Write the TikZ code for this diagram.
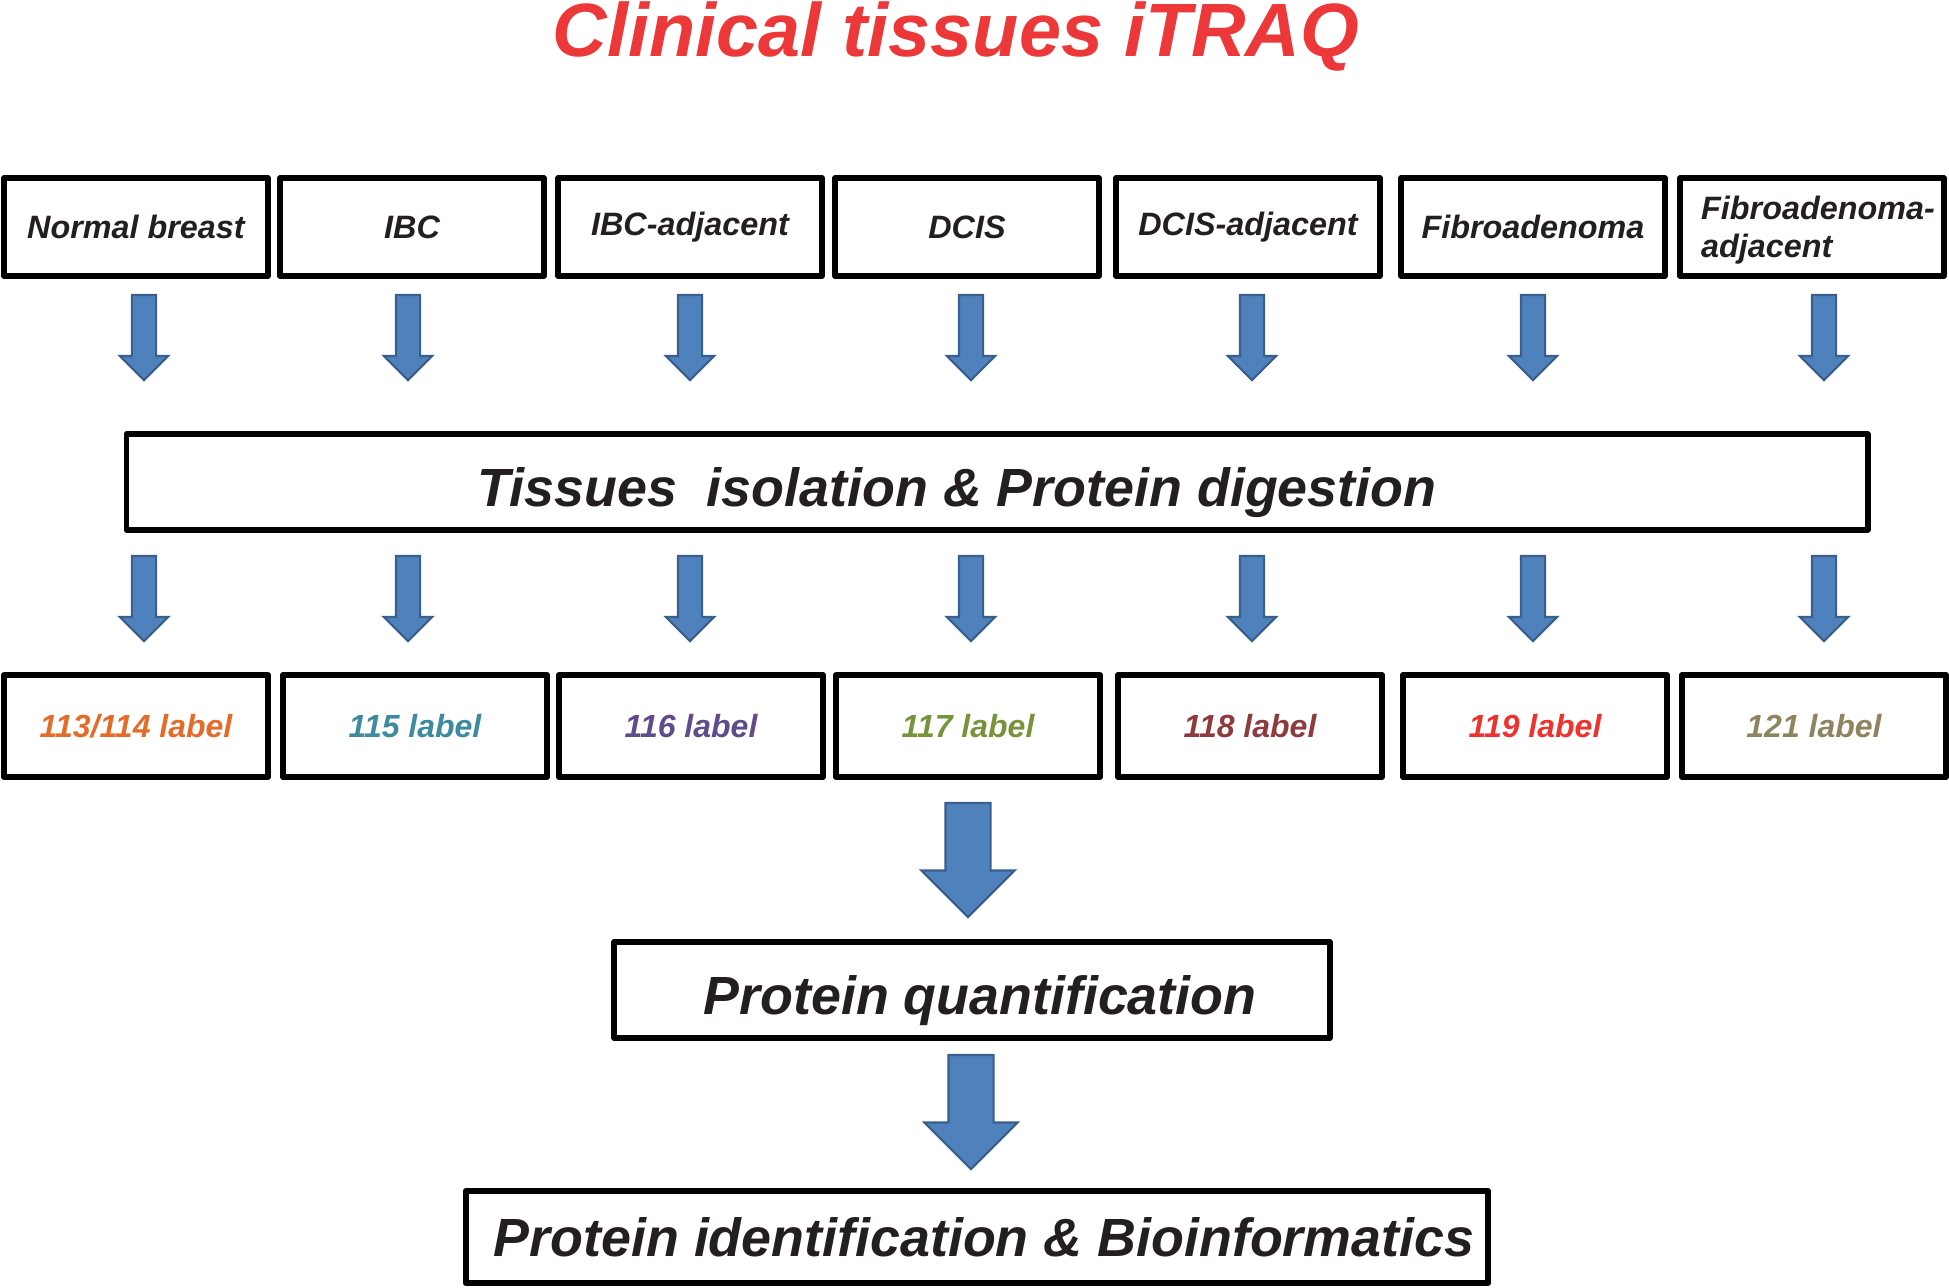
\documentclass[tikz,border=0pt]{standalone}
\usepackage{fontspec}
\setmainfont{Liberation Sans}
\usetikzlibrary{shapes.arrows}

\definecolor{titlered}{RGB}{236,56,56}
\definecolor{textblack}{RGB}{35,31,32}
\definecolor{arrowblue}{RGB}{79,129,189}
\definecolor{arrowedge}{RGB}{58,95,140}
\definecolor{labA}{RGB}{228,108,42}
\definecolor{labB}{RGB}{62,138,158}
\definecolor{labC}{RGB}{96,75,139}
\definecolor{labD}{RGB}{119,147,60}
\definecolor{labE}{RGB}{142,59,62}
\definecolor{labF}{RGB}{238,50,48}
\definecolor{labG}{RGB}{140,133,96}

\tikzset{%
  tissue/.style={draw, line width=1.7pt, line join=round, minimum width=2.63cm, minimum height=0.98cm, inner sep=0pt, text=textblack, font=\fontsize{9.2}{10.8}\selectfont\bfseries\itshape},
  tagbox/.style={tissue, minimum width=2.64cm, minimum height=1.02cm, font=\fontsize{9.1}{11}\selectfont\bfseries\itshape},
  stage/.style={draw, line width=1.7pt, line join=round, inner sep=0pt, text=textblack, font=\fontsize{15.3}{18}\selectfont\bfseries\itshape},
  smallarrow/.style={single arrow, draw=arrowedge, fill=arrowblue, line width=0.6pt, rotate=-90, anchor=tail, inner sep=0.11cm, single arrow head extend=0.12cm, minimum height=0.85cm, outer sep=0pt},
  bigarrow/.style={smallarrow, inner sep=0.215cm, single arrow head extend=0.24cm, minimum height=1.14cm},
}

\begin{document}
\begin{tikzpicture}[x=0.01cm, y=-0.01cm]
\useasboundingbox (0,0) rectangle (1949,1287);

\node [anchor=base, text=titlered, font=\fontsize{21.5}{24}\selectfont\bfseries\itshape] (title) at (956,56) {Clinical tissues iTRAQ};

% tissue samples
\node [tissue] (t1) at (136,227) {Normal breast};
\node [tissue] (t2) at (412,227) {IBC};
\node [tissue] (t3) at (690,227) {IBC-adjacent};
\node [tissue] (t4) at (967,227) {DCIS};
\node [tissue] (t5) at (1248,227) {DCIS-adjacent};
\node [tissue] (t6) at (1533,227) {Fibroadenoma};
\node [tissue, align=left] (t7) at (1812,227) {\hspace*{0.12cm}\rule{0pt}{0.30cm}Fibroadenoma-\\\hspace*{0.12cm}adjacent};

\node [smallarrow] (a1) at (144,295) {};
\node [smallarrow] (a2) at (408,295) {};
\node [smallarrow] (a3) at (690,295) {};
\node [smallarrow] (a4) at (971,295) {};
\node [smallarrow] (a5) at (1252,295) {};
\node [smallarrow] (a6) at (1533,295) {};
\node [smallarrow] (a7) at (1824,295) {};

\node [stage, minimum width=17.40cm, minimum height=0.95cm, text height=0.48cm, text depth=0cm] (iso) at (997,482) {Tissues\ \ isolation \& Protein digestion\hspace*{0.8cm}};

\node [smallarrow] (b1) at (144,556) {};
\node [smallarrow] (b2) at (408,556) {};
\node [smallarrow] (b3) at (690,556) {};
\node [smallarrow] (b4) at (971,556) {};
\node [smallarrow] (b5) at (1252,556) {};
\node [smallarrow] (b6) at (1533,556) {};
\node [smallarrow] (b7) at (1824,556) {};

% iTRAQ tags
\node [tagbox, text=labA] (l1) at (136,726) {113/114 label};
\node [tagbox, text=labB] (l2) at (415,726) {115 label};
\node [tagbox, text=labC] (l3) at (691,726) {116 label};
\node [tagbox, text=labD] (l4) at (968,726) {117 label};
\node [tagbox, text=labE] (l5) at (1250,726) {118 label};
\node [tagbox, text=labF] (l6) at (1535,726) {119 label};
\node [tagbox, text=labG] (l7) at (1814,726) {121 label};

\node [bigarrow] (c1) at (968,803) {};
\node [stage, minimum width=7.15cm, minimum height=0.96cm, text height=0.48cm, text depth=0cm] (quant) at (972,990) {\hspace*{0.16cm}Protein quantification};
\node [bigarrow] (c2) at (971,1055) {};
\node [stage, minimum width=10.22cm, minimum height=0.92cm] (ident) at (977,1237) {\hspace*{0.14cm}Protein identification \& Bioinformatics};
\end{tikzpicture}
\end{document}
